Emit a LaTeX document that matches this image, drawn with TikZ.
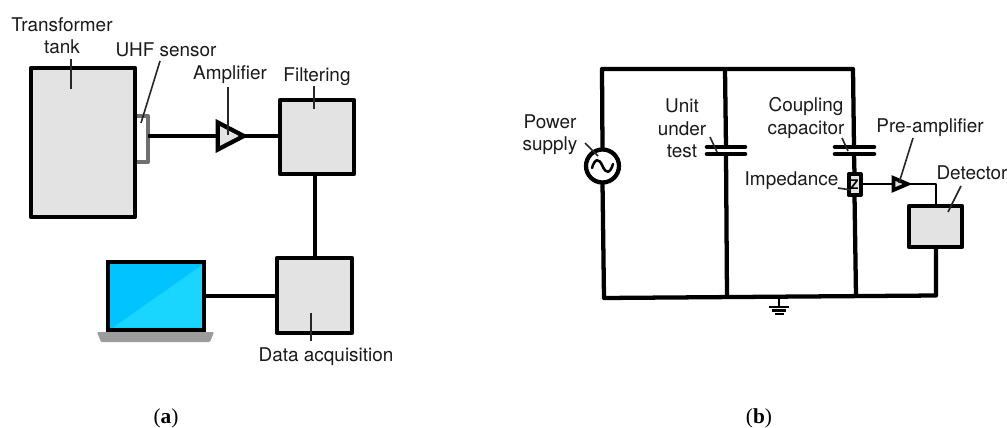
\documentclass[tikz,border=0pt]{standalone}
\usepackage{fontspec}
\setmainfont{TeX Gyre Heros}
\newfontfamily\capfont{Liberation Serif}
\usetikzlibrary{shapes.geometric}
\definecolor{boxgrey}{HTML}{E3E3E3}
\definecolor{ink}{HTML}{1A1A1A}
\definecolor{sensorgrey}{HTML}{707070}
\definecolor{basegrey}{HTML}{9C9C9C}
\definecolor{screenA}{HTML}{00C3FF}
\definecolor{screenB}{HTML}{18D6FF}
\def\pxu{0.75pt}
\tikzset{
  x=0.75pt,y=-0.75pt,
  wire/.style={line width=3.2pt,draw=black,line join=round},
  thin wire/.style={line width=1.6pt,draw=black,line join=round},
  wall/.style={draw=black,line width=3.2pt,fill=boxgrey,line join=round,inner sep=0pt,outer sep=0pt},
  lab/.style={font=\fontsize{14.2}{16.8}\selectfont,text=ink,inner sep=1pt,align=center},
  lead/.style={line width=1.2pt,draw=black!85},
  amptri/.style={isosceles triangle,isosceles triangle stretches,draw=black,fill=boxgrey,inner sep=0pt,outer sep=0pt,line join=miter},
  plate/.style={line width=3.4pt,line cap=round,draw=black},
  captext/.style={font=\capfont\fontsize{16}{18}\selectfont,inner sep=0pt},
}
\begin{document}
\begin{tikzpicture}
\useasboundingbox (0,0) rectangle (1007,428);
% ---------- panel (a)
\node[fill=white,inner sep=0pt,outer sep=0pt,minimum width=13*\pxu,minimum height=46*\pxu] (sensor) at (141.5,139) {};
\draw[sensorgrey,line width=3pt,line join=round] (sensor.north west) -- (sensor.north east) -- (sensor.south east) -- (sensor.south west);
\node[wall,minimum width=104*\pxu,minimum height=149*\pxu] (tank) at (83,142.5) {};
\node[amptri,line width=3.2pt,minimum width=27*\pxu,minimum height=26*\pxu] (amp) at (226,136) {};
\node[wall,minimum width=74*\pxu,minimum height=74*\pxu] (filter) at (317,137) {};
\node[wall,minimum width=75*\pxu,minimum height=75*\pxu] (daq) at (314.5,295.5) {};
\node[draw=black,line width=3pt,fill=screenA,inner sep=0pt,outer sep=0pt,minimum width=96*\pxu,minimum height=68*\pxu] (laptop) at (155.5,296) {};
\fill[screenB] (113,327.5) -- (202,265) -- (202,327.5) -- cycle;
\draw[line width=3pt] (laptop.north west) rectangle (laptop.south east);
\fill[basegrey,rounded corners=0.8pt] (97,332) -- (214,332) -- (210,342) -- (101,342) -- cycle;

\draw[wire] (sensor.east |- amp.west) -- (amp.west);
\draw[wire] (amp.east) -- (amp.east -| filter.west);
\draw[wire] (filter.south -| 315,0) -- (daq.north -| 315,0);
\draw[wire] (laptop.east |- 0,296) -- (daq.west |- 0,296);

\node[lab] (ltank) at (62,35.5) {Transformer\\tank};
\node[lab] (lsensor) at (166,50) {UHF sensor};
\node[lab] (lamp) at (230,75) {Amplifier};
\node[lab] (lfilter) at (317,77) {Filtering};
\node[lab] (ldaq) at (326,357) {Data acquisition};
\coordinate (ptank) at (71,89);
\coordinate (psensor) at (141,123);
\coordinate (pamp) at (228,135);
\coordinate (pfilter) at (314,109);
\coordinate (pdaq) at (311,313);
\draw[lead] (71,59) -- (ptank);
\draw[lead] (160,61) -- (psensor);
\draw[lead] (228,87) -- (pamp);
\draw[lead] (314,86) -- (pfilter);
\draw[lead] (311,341) -- (pdaq);

\node[captext] (capa) at (166,418) {(\textbf{a})};

% ---------- panel (b)
\coordinate (tl) at (602,69);
\coordinate (tm) at (725,69);
\coordinate (tr) at (853,69);
\coordinate (bl) at (604,298);
\coordinate (bm) at (727,297);
\coordinate (bg) at (779,297);
\coordinate (br) at (856,296);
\coordinate (bd) at (936,295.5);
\node[draw=black,line width=3.2pt,fill=white,circle,inner sep=0pt,outer sep=0pt,minimum size=33*\pxu] (src) at (602.5,166) {};
\draw[line width=1.9pt,line cap=round] (592,168) .. controls (595,158) and (599,158) .. (602.5,166) .. controls (606,174) and (610,174) .. (613,164);
\node[wall,minimum width=53*\pxu,minimum height=41*\pxu] (det) at (935.5,226.5) {};
\node[wall,fill=boxgrey,line width=3pt,minimum width=12*\pxu,minimum height=21*\pxu,font=\bfseries\fontsize{10}{10}\selectfont] (imp) at (854.5,184.5) {Z};
\node[amptri,line width=2.8pt,minimum width=12*\pxu,minimum height=14*\pxu] (pre) at (897.5,184) {};

\coordinate (c1a) at (726,147);
\coordinate (c1b) at (726,154);
\coordinate (c2a) at (854,147);
\coordinate (c2b) at (854,154);
\draw[wire] (src.north) -- (tl) -- (tr) -- (c2a);
\draw[wire] (tm) -- (c1a);
\draw[wire] (c1b) -- (bm);
\draw[wire] (c2b) -- (imp.north);
\draw[wire] (imp.south) -- (br);
\draw[wire] (src.south) -- (bl) -- (bd) -- (det.south -| bd);
\draw[plate] (707,147) -- (745,147);
\draw[plate] (707,154) -- (745,154);
\draw[plate] (835,147) -- (874,147);
\draw[plate] (835,154) -- (874,154);
\draw[thin wire] (imp.east |- pre.west) -- (pre.west);
\draw[thin wire] (pre.east) -- (936,184) -- (det.north -| 936,0);
% ground
\coordinate (g1) at (779,307);
\draw[line width=2pt] (bg) -- (g1);
\draw[line width=1.6pt] (769,307) -- (789,307);
\draw[line width=1.6pt] (772,310.5) -- (786,310.5);
\draw[line width=1.6pt] (775,314) -- (784,314);

\node[lab] (lpower) at (550,134.5) {Power\\supply};
\node[lab] (lunit) at (682,128.5) {Unit\\under\\test};
\node[lab] (lcoup) at (806,118) {Coupling\\capacitor};
\node[lab,anchor=east] (limp) at (840,181) {Impedance};
\node[lab] (lpre) at (930,128) {Pre-amplifier};
\node[lab] (ldet) at (972,173) {Detector};
\coordinate (psrc) at (598,156);
\coordinate (punit) at (717,152);
\coordinate (pcoup) at (848,151);
\coordinate (pimp) at (851,190);
\coordinate (ppre) at (899,183);
\coordinate (pdet) at (948,212);
\draw[lead] (585,143) -- (psrc);
\draw[lead] (710,137) -- (punit);
\draw[lead] (842,138) -- (pcoup);
\draw[lead] (838,188) -- (pimp);
\draw[lead] (913,138) -- (ppre);
\draw[lead] (961,186) -- (pdet);

\node[captext] (capb) at (759,418) {(\textbf{b})};
\end{tikzpicture}
\end{document}
